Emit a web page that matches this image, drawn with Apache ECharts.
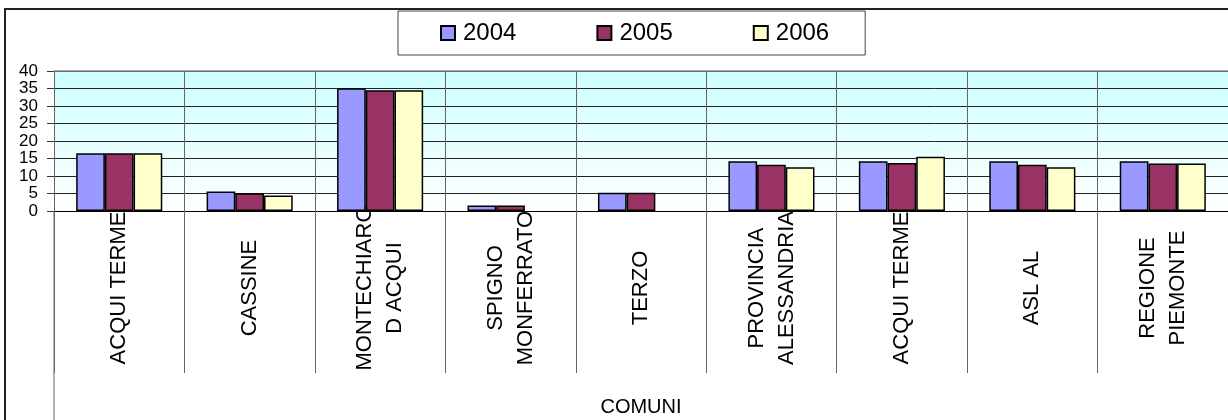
<!DOCTYPE html>
<html>
<head>
<meta charset="utf-8">
<title>COMUNI</title>
<script src="https://cdn.jsdelivr.net/npm/echarts@6/dist/echarts.min.js"></script>
<style>
    html, body { margin: 0; padding: 0; background: #fff; }
    #main { width: 1228px; height: 420px; }
</style>
</head>
<body>
<div id="main"></div>
<script>
// categorie (asse x)
var categories = ['ACQUI TERME', 'CASSINE', 'MONTECHIARO\nD ACQUI', 'SPIGNO\nMONFERRATO', 'TERZO',
    'PROVINCIA\nALESSANDRIA', 'ACQUI TERME', 'ASL AL', 'REGIONE\nPIEMONTE'];
var years = ['2004', '2005', '2006'];
// valori
var values2004 = [16.5, 5.6, 35.1, 1.6, 5.2, 14.2, 14.2, 14.2, 14.2];
var values2005 = [16.5, 5.1, 34.5, 1.6, 5.2, 13.2, 13.7, 13.2, 13.6];
var values2006 = [16.5, 4.4, 34.5, null, null, 12.5, 15.5, 12.5, 13.6];
var yMin = 0;
var yMax = 40;
var yStep = 5;
var axisTitle = 'COMUNI';

var colors = ['#9999FF', '#993366', '#FFFFCC'];
var font = '"Liberation Sans", Arial, sans-serif';

function buildSeries() {
    var all = [values2004, values2005, values2006];
    var series = [];
    for (var i = 0; i < years.length; i++) {
        series.push({
            name: years[i],
            type: 'bar',
            data: all[i],
            barGap: '0%',
            barCategoryGap: '34%',
            itemStyle: {
                color: colors[i],
                borderColor: '#000',
                borderWidth: 1.5
            }
        });
    }
    return series;
}

var myChart = echarts.init(document.getElementById('main'));
var option = {
    animation: false,
    textStyle: { fontFamily: font, color: '#000' },
    legend: {
        data: years,
        left: 398,
        top: 11,
        padding: [10, 36, 10, 42],
        itemGap: 80,
        itemWidth: 14,
        itemHeight: 14,
        borderColor: '#444',
        borderWidth: 1,
        icon: 'rect',
        textStyle: { fontSize: 24, fontFamily: font, color: '#000', padding: [0, 0, 0, 3] }
    },
    grid: {
        left: 54,
        top: 71,
        right: 0,
        bottom: 209,
        containLabel: false,
        outerBoundsMode: 'none',
        show: true,
        borderWidth: 0,
        backgroundColor: new echarts.graphic.LinearGradient(0, 0, 0, 1, [
            { offset: 0, color: '#CCFFFF' },
            { offset: 1, color: '#FFFFFF' }
        ])
    },
    xAxis: {
        type: 'category',
        data: categories,
        name: axisTitle,
        nameLocation: 'middle',
        nameGap: 186,
        nameTextStyle: { fontSize: 20, fontFamily: font, color: '#000' },
        axisLine: { lineStyle: { color: '#000', width: 1 } },
        axisTick: { show: true, interval: 0, length: 162, lineStyle: { color: '#666', width: 1 } },
        axisLabel: {
            interval: 0,
            rotate: 90,
            align: 'center',
            verticalAlign: 'middle',
            margin: 77,
            fontSize: 22,
            lineHeight: 30,
            fontFamily: font,
            color: '#000'
        },
        splitLine: { show: true, interval: 0, lineStyle: { color: '#666', width: 1 } }
    },
    yAxis: {
        type: 'value',
        min: yMin,
        max: yMax,
        interval: yStep,
        axisLine: { show: true, lineStyle: { color: '#666', width: 1 } },
        axisTick: { show: true, length: 7, lineStyle: { color: '#333' } },
        axisLabel: {
            fontSize: 17, margin: 16, fontFamily: font, color: '#000', lineHeight: 12,
            showMinLabel: true, showMaxLabel: true, hideOverlap: false
        },
        splitLine: { lineStyle: { color: '#222', width: 1 } }
    },
    graphic: [
        {
            type: 'rect',
            z: 100,
            shape: { x: 5, y: 9, width: 1260, height: 440 },
            style: { fill: null, stroke: '#222', lineWidth: 2 }
        },
        {
            type: 'line',
            z: 100,
            shape: { x1: 54, y1: 211, x2: 54, y2: 420 },
            style: { stroke: '#666', lineWidth: 1 }
        },
        {
            type: 'line',
            z: 100,
            shape: { x1: 54, y1: 71, x2: 1228, y2: 71 },
            style: { stroke: '#888', lineWidth: 1.5 }
        }
    ],
    series: buildSeries()
};
myChart.setOption(option);
</script>
</body>
</html>
